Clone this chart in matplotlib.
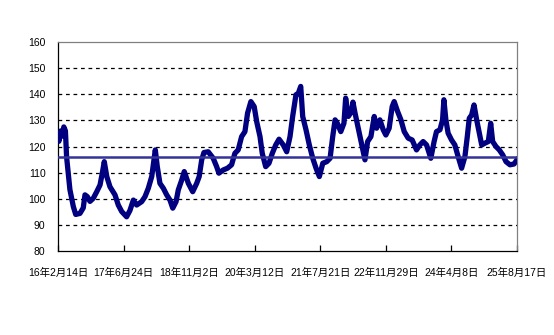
import matplotlib

matplotlib.use("Agg")
import matplotlib.pyplot as plt
import pandas as pd

plt.rcParams["font.family"] = ["Liberation Sans", "Noto Sans CJK JP"]

# index readings
dates = [
    "2016-02-14", "2016-02-21", "2016-03-07", "2016-03-22", "2016-03-29", "2016-04-10",
    "2016-04-19", "2016-05-01", "2016-05-14", "2016-06-09", "2016-06-27", "2016-07-29",
    "2016-08-23", "2016-09-05", "2016-09-23", "2016-10-13", "2016-11-07", "2016-12-03",
    "2016-12-28", "2017-01-14", "2017-01-29", "2017-02-17", "2017-03-13", "2017-04-20",
    "2017-05-15", "2017-06-10", "2017-07-17", "2017-08-11", "2017-09-06", "2017-10-01",
    "2017-11-08", "2017-12-03", "2017-12-28", "2018-01-23", "2018-02-09", "2018-02-19",
    "2018-03-06", "2018-03-26", "2018-04-21", "2018-05-16", "2018-06-10", "2018-07-01",
    "2018-07-26", "2018-08-12", "2018-09-07", "2018-09-26", "2018-10-27", "2018-11-29",
    "2018-12-29", "2019-01-17", "2019-02-05", "2019-02-22", "2019-03-26", "2019-05-03",
    "2019-05-29", "2019-06-15", "2019-07-17", "2019-08-19", "2019-09-19", "2019-10-14",
    "2019-11-08", "2019-12-04", "2019-12-29", "2020-01-18", "2020-02-12", "2020-03-08",
    "2020-03-27", "2020-04-21", "2020-05-08", "2020-06-03", "2020-06-28", "2020-07-23",
    "2020-08-18", "2020-09-12", "2020-10-14", "2020-11-09", "2020-12-04", "2020-12-24",
    "2021-01-18", "2021-02-05", "2021-02-23", "2021-03-10", "2021-04-04", "2021-04-29",
    "2021-05-25", "2021-06-19", "2021-07-14", "2021-08-09", "2021-09-08", "2021-10-03",
    "2021-10-23", "2021-11-10", "2021-11-27", "2021-12-23", "2022-01-16", "2022-01-29",
    "2022-02-18", "2022-03-15", "2022-03-25", "2022-04-09", "2022-05-04", "2022-05-30",
    "2022-06-24", "2022-07-14", "2022-08-08", "2022-09-02", "2022-09-20", "2022-10-15",
    "2022-11-09", "2022-11-29", "2022-12-24", "2023-01-16", "2023-01-31", "2023-02-26",
    "2023-03-23", "2023-04-17", "2023-05-17", "2023-06-16", "2023-07-19", "2023-08-13",
    "2023-09-07", "2023-10-03", "2023-11-04", "2023-11-29", "2023-12-17", "2024-01-12",
    "2024-02-01", "2024-02-11", "2024-02-26", "2024-03-14", "2024-04-09", "2024-05-04",
    "2024-05-29", "2024-06-24", "2024-07-19", "2024-08-06", "2024-08-21", "2024-09-08",
    "2024-09-26", "2024-10-16", "2024-11-05", "2024-11-23", "2024-12-18", "2025-01-12",
    "2025-01-30", "2025-02-14", "2025-03-11", "2025-04-05", "2025-05-01", "2025-05-26",
    "2025-06-25", "2025-07-25", "2025-08-17",
]
values = [
    125, 122, 126, 124, 127.5, 126,
    116, 110, 103.5, 97, 94, 94.4,
    96.5, 101.5, 100.8, 99, 100.2, 102.7,
    105.3, 109.8, 114.2, 108.5, 104.6, 101.5,
    97.6, 95.1, 93.1, 95.5, 99.5, 97.6,
    98.9, 100.8, 104, 108.5, 114.9, 118.7,
    112.3, 105.9, 104, 101.5, 99.5, 96.4,
    98.9, 103.4, 107.2, 110.4, 105.9, 102.7,
    105.9, 108.5, 114.9, 117.7, 118, 115.5,
    112.3, 109.8, 111, 111.7, 113, 117.4,
    118.7, 123.8, 125.7, 132.8, 137.2, 135.3,
    129.5, 123.8, 117.4, 112.3, 113.6, 117.4,
    120.6, 122.8, 120.6, 118, 123.8, 131.5,
    139.8, 140.4, 143, 131.5, 126.4, 120.6,
    115.5, 111.7, 108.5, 113.6, 114.2, 115.5,
    123.8, 130.2, 128.9, 125.7, 128.9, 138.5,
    131.5, 133.4, 137, 133, 127, 120.6,
    114.9, 121.9, 123.8, 131.5, 127, 130.2,
    126.4, 124.4, 127, 135.3, 137.2, 133.4,
    130.2, 125.7, 123.2, 122.5, 118.7, 120.6,
    121.9, 120.6, 115.5, 121.9, 125.7, 126.4,
    130.2, 137.9, 130.2, 125.1, 122.5, 120.6,
    116.1, 111.7, 116.1, 123.8, 130.8, 132.1,
    135.9, 130.2, 125.1, 120.6, 121.3, 121.9,
    128.9, 121.9, 120, 118.7, 116.8, 114.2,
    113, 113.3, 114.9,
]
average = 116

tick_dates = ["2016-02-14", "2017-06-24", "2018-11-02", "2020-03-12",
              "2021-07-21", "2022-11-29", "2024-04-08", "2025-08-17"]
tick_labels = ["16年2月14日", "17年6月24日", "18年11月2日", "20年3月12日",
               "21年7月21日", "22年11月29日", "24年4月8日", "25年8月17日"]

x = pd.to_datetime(dates)
ticks = pd.to_datetime(tick_dates)

fig = plt.figure(figsize=(5.54, 3.35), dpi=100)
ax = fig.add_axes([0.1047, 0.2507, 0.8285, 0.6239])

ax.plot(x, values, color="#000080", lw=3.8, solid_joinstyle="round", zorder=3)
ax.axhline(average, color="#333399", lw=1.8, zorder=4)

ax.set_ylim(80, 160)
ax.set_yticks(range(80, 161, 10))
ax.set_xlim(ticks[0], ticks[-1])
ax.set_xticks(ticks)
ax.set_xticklabels(tick_labels)

for v in range(90, 160, 10):
    ax.axhline(v, color="black", lw=0.9, ls=(0, (3, 3)), zorder=1)

ax.tick_params(axis="x", direction="in", length=4, width=0.9, pad=12, labelsize=7.5)
ax.tick_params(axis="y", length=0, pad=9, labelsize=7.5)
ax.spines["left"].set_color("black")
ax.spines["bottom"].set_color("black")
ax.spines["top"].set_color("#808080")
ax.spines["right"].set_color("#808080")
for s in ax.spines.values():
    s.set_linewidth(0.9)

fig.savefig("out.png", dpi=100)
